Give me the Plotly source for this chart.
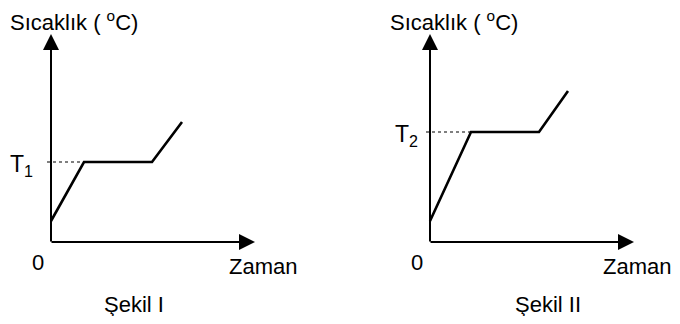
import plotly.graph_objects as go

# heating curves (time, temperature) in arbitrary units, origin at axes corner
time_1 = [0, 33, 101, 131]
temp_1 = [21, 80, 80, 120]
time_2 = [0, 41, 109, 138]
temp_2 = [21, 110, 110, 151]

panels = [
    dict(time=time_1, temp=temp_1, label="T<sub>1</sub>", label_x=-16, caption="Şekil I", cap_x=83,
         title_x=-43, zaman_x=176, xa="x", ya="y"),
    dict(time=time_2, temp=temp_2, label="T<sub>2</sub>", label_x=-10, caption="Şekil II", cap_x=118,
         title_x=-42, zaman_x=171, xa="x2", ya="y"),
]

FONT = "Liberation Sans, Arial, sans-serif"
FS = 22

fig = go.Figure()
annotations = []
for p in panels:
    t, T = p["time"], p["temp"]
    # dotted guide at plateau temperature
    fig.add_scatter(x=[-4, t[1]], y=[T[1], T[1]], mode="lines", xaxis=p["xa"], yaxis=p["ya"],
                    line=dict(color="#555555", width=1.5, dash="dot"), showlegend=False)
    fig.add_scatter(x=t, y=T, mode="lines", xaxis=p["xa"], yaxis=p["ya"],
                    line=dict(color="black", width=2.6), showlegend=False)

    # axes with arrows
    annotations.append(dict(x=0, y=208, ax=0, ay=-1, xref=p["xa"], yref=p["ya"], axref=p["xa"], ayref=p["ya"],
                            text="", showarrow=True, arrowhead=2, arrowsize=1.6, arrowwidth=2, arrowcolor="black", standoff=0))
    annotations.append(dict(x=204, y=0, ax=-1, ay=0, xref=p["xa"], yref=p["ya"], axref=p["xa"], ayref=p["ya"],
                            text="", showarrow=True, arrowhead=2, arrowsize=1.6, arrowwidth=2, arrowcolor="black", standoff=0))

    annotations.append(dict(x=p["label_x"], y=T[1], xref=p["xa"], yref=p["ya"], text=p["label"], showarrow=False,
                            xanchor="right", yanchor="middle", yshift=-3, font=dict(size=FS + 1, family=FONT, color="black")))
    annotations.append(dict(x=-13, y=-20, xref=p["xa"], yref=p["ya"], text="0", showarrow=False,
                            font=dict(size=FS, family=FONT, color="black")))
    annotations.append(dict(x=p["zaman_x"], y=-24, xref=p["xa"], yref=p["ya"], text="Zaman", showarrow=False,
                            xanchor="left", font=dict(size=FS, family=FONT, color="black")))
    annotations.append(dict(x=p["cap_x"], y=-62, xref=p["xa"], yref=p["ya"], text=p["caption"], showarrow=False,
                            font=dict(size=FS, family=FONT, color="black")))
    annotations.append(dict(x=p["title_x"], y=221, xref=p["xa"], yref=p["ya"],
                            text="Sıcaklık ( <sup>o</sup>C)", showarrow=False,
                            xanchor="left", font=dict(size=FS, family=FONT, color="black")))

axis_style = dict(visible=False, showgrid=False, zeroline=False, fixedrange=True)
fig.update_layout(
    width=664, height=308,
    margin=dict(l=0, r=0, t=0, b=0),
    paper_bgcolor="white", plot_bgcolor="white",
    xaxis=dict(domain=[0, 0.5], range=[-43, 289], **axis_style),
    xaxis2=dict(domain=[0.5, 1], range=[-90, 242], **axis_style),
    yaxis=dict(domain=[0, 1], range=[-74, 234], **axis_style),
    annotations=annotations,
)

fig.write_html("out.html")
